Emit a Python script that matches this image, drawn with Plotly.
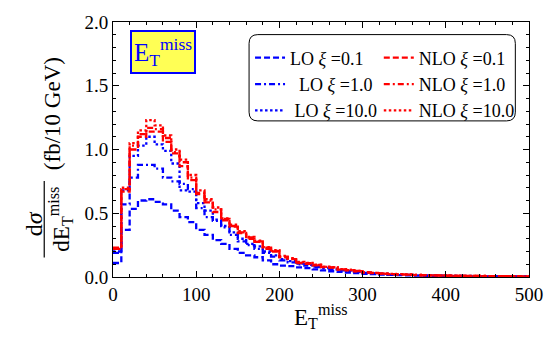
import plotly.graph_objects as go

# ---------------- data ----------------
bin_edges = list(range(0, 510, 10))  # 0..500 GeV, 10 GeV bins

lo_xi01 = [0.11, 0.37, 0.535, 0.60, 0.61, 0.59, 0.57, 0.52, 0.47, 0.43,
           0.37, 0.33, 0.29, 0.26, 0.22, 0.19, 0.17, 0.155, 0.13, 0.10,
           0.09, 0.085, 0.075, 0.07, 0.06, 0.052, 0.045, 0.04, 0.035, 0.03,
           0.025, 0.022, 0.018, 0.016, 0.014, 0.012, 0.011, 0.010, 0.009, 0.008,
           0.007, 0.006, 0.006, 0.005, 0.005, 0.004, 0.004, 0.004, 0.003, 0.003]
lo_xi1 = [0.19, 0.57, 0.78, 0.88, 0.88, 0.85, 0.78, 0.75, 0.73, 0.69,
          0.54, 0.47, 0.44, 0.39, 0.33, 0.28, 0.25, 0.22, 0.19, 0.16,
          0.13, 0.115, 0.10, 0.09, 0.078, 0.068, 0.06, 0.052, 0.045, 0.038,
          0.032, 0.028, 0.024, 0.020, 0.018, 0.016, 0.014, 0.012, 0.011, 0.010,
          0.009, 0.008, 0.007, 0.007, 0.006, 0.005, 0.005, 0.005, 0.004, 0.004]
lo_xi10 = [0.20, 0.68, 0.95, 1.03, 1.10, 1.04, 0.99, 0.89, 0.68, 0.67,
           0.58, 0.52, 0.45, 0.40, 0.35, 0.30, 0.26, 0.24, 0.20, 0.17,
           0.14, 0.125, 0.105, 0.095, 0.082, 0.072, 0.064, 0.055, 0.048, 0.040,
           0.034, 0.030, 0.025, 0.021, 0.019, 0.017, 0.015, 0.013, 0.012, 0.011,
           0.010, 0.009, 0.008, 0.007, 0.006, 0.006, 0.005, 0.005, 0.004, 0.004]
nlo_xi01 = [0.22, 0.67, 1.00, 1.10, 1.14, 1.14, 1.06, 0.97, 0.87, 0.76,
            0.65, 0.585, 0.51, 0.445, 0.395, 0.345, 0.30, 0.275, 0.22, 0.20,
            0.155, 0.14, 0.11, 0.104, 0.091, 0.078, 0.073, 0.058, 0.053, 0.045,
            0.035, 0.030, 0.025, 0.022, 0.020, 0.018, 0.015, 0.013, 0.012, 0.011,
            0.010, 0.009, 0.008, 0.008, 0.007, 0.006, 0.006, 0.005, 0.005, 0.005]
nlo_xi1 = [0.23, 0.69, 1.03, 1.12, 1.17, 1.16, 1.09, 0.98, 0.90, 0.78,
           0.66, 0.60, 0.53, 0.455, 0.40, 0.35, 0.31, 0.28, 0.23, 0.205,
           0.16, 0.145, 0.115, 0.108, 0.094, 0.080, 0.075, 0.060, 0.055, 0.047,
           0.037, 0.032, 0.027, 0.023, 0.021, 0.019, 0.016, 0.014, 0.013, 0.012,
           0.011, 0.010, 0.009, 0.008, 0.008, 0.007, 0.006, 0.006, 0.005, 0.005]
nlo_xi10 = [0.22, 0.70, 1.05, 1.15, 1.23, 1.19, 1.11, 1.00, 0.92, 0.80,
            0.68, 0.61, 0.545, 0.46, 0.41, 0.36, 0.315, 0.285, 0.235, 0.21,
            0.165, 0.148, 0.118, 0.110, 0.096, 0.082, 0.077, 0.062, 0.056, 0.048,
            0.038, 0.033, 0.028, 0.024, 0.022, 0.020, 0.017, 0.015, 0.013, 0.012,
            0.011, 0.010, 0.009, 0.009, 0.008, 0.007, 0.007, 0.006, 0.006, 0.005]

x_ticks = [0, 100, 200, 300, 400, 500]
y_ticks = [0.0, 0.5, 1.0, 1.5, 2.0]
y_tick_labels = ["0.0", "0.5", "1.0", "1.5", "2.0"]

# ---------------- styling ----------------
W, H = 555, 343
L, R, T, B = 112.5, 16, 14, 66
PW, PH = W - L - R, H - T - B
FONT = "Liberation Serif, Times New Roman, serif"
BLUE = "rgb(0,0,255)"
RED = "rgb(255,0,0)"
DASH = "6px,3px"
DASHDOT = "6px,3px,2px,3px"
DOT = "2.5px,2.5px"


def px2paper(px, py):
    return (px - L) / PW, (H - B - py) / PH


series = [
    ("LO <i>ξ</i> =0.1", lo_xi01, BLUE, DASH, "legend"),
    ("  LO <i>ξ</i> =1.0", lo_xi1, BLUE, DASHDOT, "legend"),
    (" LO <i>ξ</i> =10.0", lo_xi10, BLUE, DOT, "legend"),
    ("NLO <i>ξ</i> =0.1", nlo_xi01, RED, DASH, "legend2"),
    ("NLO <i>ξ</i> =1.0", nlo_xi1, RED, DASHDOT, "legend2"),
    ("NLO <i>ξ</i> =10.0", nlo_xi10, RED, DOT, "legend2"),
]

fig = go.Figure()
for idx, (name, vals, col, dash, lg) in enumerate(series):
    fig.add_trace(go.Scatter(
        x=bin_edges,
        y=list(vals) + [vals[-1]],
        mode="lines",
        line=dict(color=col, width=2.3, dash=dash, shape="hv"),
        name=name,
        legend=lg,
        showlegend=True,
    ))

axis_common = dict(
    showline=True, linecolor="black", linewidth=1, mirror="ticks",
    ticks="inside", ticklen=6, tickcolor="black", tickwidth=1,
    showgrid=False, zeroline=False,
    tickfont=dict(family=FONT, size=19, color="black"),
)

fig.update_xaxes(range=[0, 500], tickvals=x_ticks,
                 minor=dict(ticks="inside", ticklen=3, dtick=20, tickcolor="black", showgrid=False),
                 **axis_common)
fig.update_yaxes(range=[0, 2.0], tickvals=y_ticks, ticktext=y_tick_labels,
                 minor=dict(ticks="inside", ticklen=3, dtick=0.1, tickcolor="black", showgrid=False),
                 **axis_common)

annotations = []
# x-axis title
ax, ay = px2paper(325, 318)
annotations.append(dict(x=ax, y=ay, xref="paper", yref="paper", showarrow=False,
                        text="E<sub>T</sub><sup>miss</sup>",
                        font=dict(family=FONT, size=23, color="black"),
                        xanchor="center", yanchor="middle"))
# y-axis title pieces (rotated fraction)
ax, ay = px2paper(31, 222)
annotations.append(dict(x=ax, y=ay, xref="paper", yref="paper", showarrow=False,
                        text="d<i>σ</i>", textangle=-90,
                        font=dict(family=FONT, size=24, color="black"),
                        xanchor="center", yanchor="middle"))
ax, ay = px2paper(59, 217)
annotations.append(dict(x=ax, y=ay, xref="paper", yref="paper", showarrow=False,
                        text="dE<sub>T</sub><sup>miss</sup>", textangle=-90,
                        font=dict(family=FONT, size=23, color="black"),
                        xanchor="center", yanchor="middle"))
ax, ay = px2paper(50, 109)
annotations.append(dict(x=ax, y=ay, xref="paper", yref="paper", showarrow=False,
                        text="(fb/10 GeV)", textangle=-90,
                        font=dict(family=FONT, size=23, color="black"),
                        xanchor="center", yanchor="middle"))
# E_T^miss box label
ax, ay = px2paper(164, 22)
annotations.append(dict(x=ax, y=ay, xref="paper", yref="paper", showarrow=False,
                        text="E<sub>T</sub><sup>miss</sup>",
                        font=dict(family=FONT, size=25, color=BLUE),
                        bgcolor="rgb(255,255,85)", bordercolor=BLUE, borderwidth=2,
                        borderpad=2, xanchor="center", yanchor="top"))

shapes = []
# fraction bar
x0, y0 = px2paper(42, 178)
x1, y1 = px2paper(42, 257)
shapes.append(dict(type="line", xref="paper", yref="paper", x0=x0, x1=x1, y0=y0, y1=y1,
                   line=dict(color="black", width=1.2)))
# rounded legend frame
lx0, ly0, lx1, ly1, r = 252, 27, 525, 116, 9
def P(px, py):
    a, b = px2paper(px, py)
    return f"{a:.5f},{b:.5f}"
path = (f"M {P(lx0 + r, ly0)} L {P(lx1 - r, ly0)} Q {P(lx1, ly0)} {P(lx1, ly0 + r)} "
        f"L {P(lx1, ly1 - r)} Q {P(lx1, ly1)} {P(lx1 - r, ly1)} "
        f"L {P(lx0 + r, ly1)} Q {P(lx0, ly1)} {P(lx0, ly1 - r)} "
        f"L {P(lx0, ly0 + r)} Q {P(lx0, ly0)} {P(lx0 + r, ly0)} Z")
shapes.append(dict(type="path", xref="paper", yref="paper", path=path,
                   line=dict(color="black", width=1), fillcolor="white", layer="above"))

legend_common = dict(xanchor="left", yanchor="top", orientation="v",
                     bgcolor="rgba(0,0,0,0)", borderwidth=0,
                     font=dict(family=FONT, size=18, color="black"),
                     itemwidth=30, traceorder="normal", tracegroupgap=0)
l1x, l1y = px2paper(253, 32)
l2x, l2y = px2paper(385, 32)
fig.update_layout(
    width=W, height=H,
    margin=dict(l=L, r=R, t=T, b=B, pad=0),
    paper_bgcolor="white", plot_bgcolor="white",
    showlegend=True,
    legend=dict(x=l1x, y=l1y, **legend_common),
    legend2=dict(x=l2x, y=l2y, **legend_common),
    annotations=annotations,
    shapes=shapes,
)

fig.write_html("out.html")
